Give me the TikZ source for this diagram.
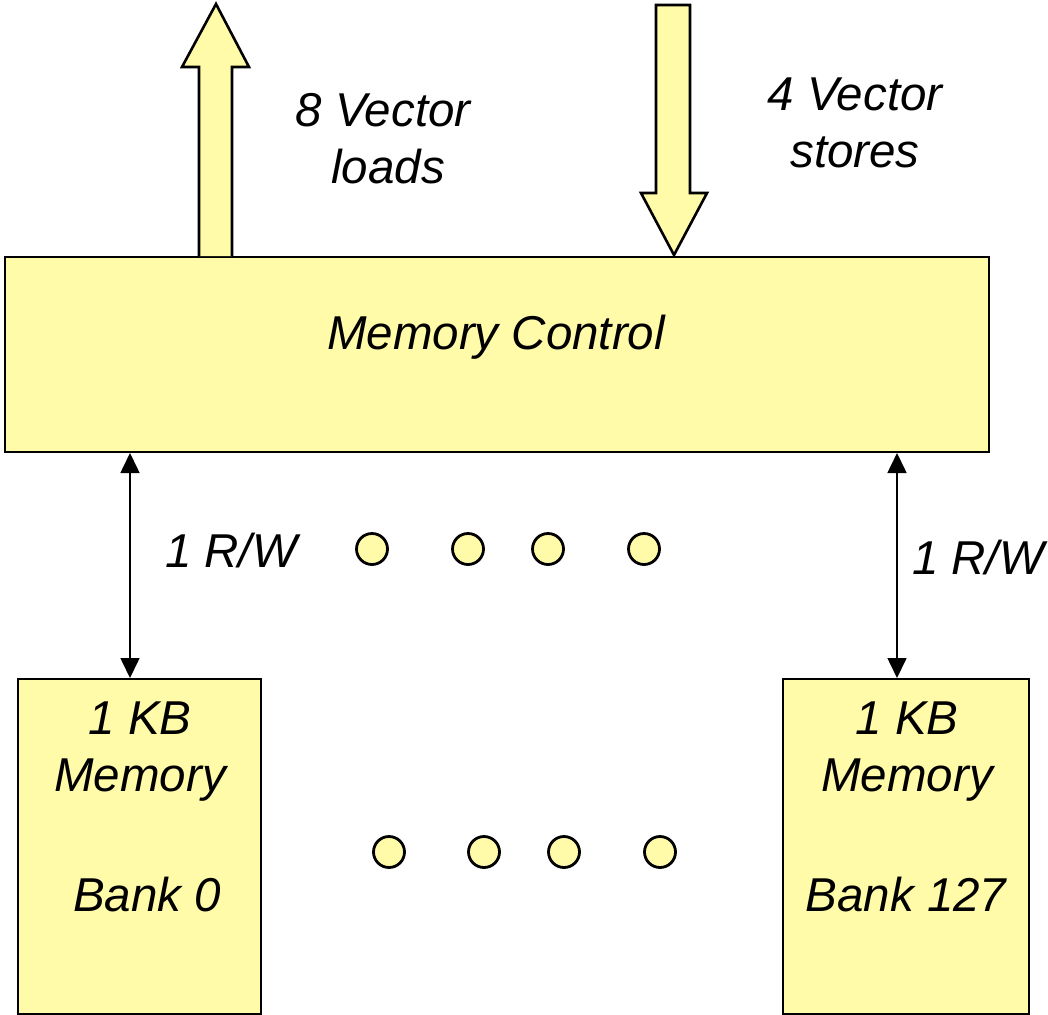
\documentclass[tikz,border=0pt]{standalone}
\usepackage{fontspec}
\setmainfont{Liberation Sans}
\usetikzlibrary{arrows.meta,calc}
\definecolor{memyel}{RGB}{255,251,168}
\tikzset{
  box/.style={draw=black, line width=2pt, fill=memyel},
  lbl/.style={font=\fontsize{47.5}{57}\selectfont\itshape, align=center, inner sep=0pt},
  blockarrow/.style={draw=black, line width=2.6pt, fill=memyel, line join=miter},
  dot/.style={circle, draw=black, line width=2.8pt, fill=memyel, minimum size=31pt, inner sep=0pt},
  rw/.style={line width=1.6pt, {Triangle[length=20pt,width=19pt]}-{Triangle[length=20pt,width=19pt]}}
}
\begin{document}
\begin{tikzpicture}[x=1pt,y=-1pt]
\useasboundingbox (0,0) rectangle (1048,1014);
% memory control
\node[box, minimum width=984pt, minimum height=195pt, anchor=north west, inner sep=0pt] (mc) at (4,256) {};
\node[lbl] (mct) at (496,337) {Memory Control};
% block arrows
\draw[blockarrow] (199,256) -- (199,67) -- (182,67) -- (216,4) -- (249,67) -- (232,67) -- (232,256);
\draw[blockarrow] (656,5) -- (690,5) -- (690,193) -- (707,193) -- (674,255) -- (641,193) -- (656,193) -- cycle;
\node[lbl, align=center] (ld) at (383,139) {8 Vector\\\hspace*{10pt}loads};
\node[lbl] (st) at (855,123) {4 Vector\\stores};
% banks
\node[box, minimum width=243pt, minimum height=335pt, anchor=north west, inner sep=0pt] (b0) at (17,678) {};
\node[box, minimum width=246pt, minimum height=335pt, anchor=north west, inner sep=0pt] (b127) at (782,678) {};
\node[lbl] (b0a) at (140,752) {1 KB\\Memory};
\node[lbl] (b0b) at (147,895) {Bank 0};
\node[lbl] (b1a) at (907,752) {1 KB\\Memory};
\node[lbl] (b1b) at (906,895) {Bank 127};
% R/W connectors
\coordinate (lx) at (130,0);
\coordinate (rx) at (897,0);
\draw[rw] (mc.south -| lx) -- (b0.north -| lx);
\draw[rw] (mc.south -| rx) -- (b127.north -| rx);
\node[lbl] (rwl) at (231,551) {1 R/W};
\node[lbl] (rwr) at (978,558) {1 R/W};
% dots
\node[dot] (d1) at (372,549) {};
\node[dot] (d2) at (468,549) {};
\node[dot] (d3) at (548,549) {};
\node[dot] (d4) at (644,549) {};
\node[dot] (e1) at (389,852) {};
\node[dot] (e2) at (484,852) {};
\node[dot] (e3) at (564,852) {};
\node[dot] (e4) at (660,852) {};
\end{tikzpicture}
\end{document}
